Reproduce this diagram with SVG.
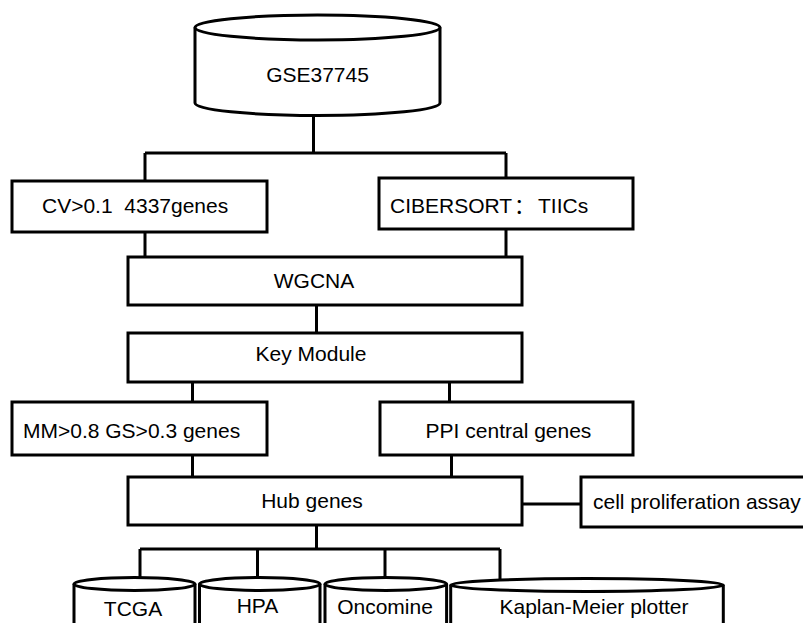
<svg xmlns="http://www.w3.org/2000/svg" width="803" height="623" viewBox="0 0 803 623">
<style>
.b{fill:#fff;stroke:#000;stroke-width:3}
.c{fill:none;stroke:#000;stroke-width:3}
text{font-family:"Liberation Sans","Noto Sans CJK SC",Arial,sans-serif;font-size:21px;fill:#000;white-space:pre}
.m{text-anchor:middle}
</style>
<rect width="803" height="623" fill="#fff"/>
<g id="connectors" class="c">
<path d="M313.5,115 V153 M145,153 H506 M145,153 V181 M506,153 V178"/>
<path d="M145,232 V257 M506,229 V257"/>
<path d="M316.5,305 V333"/>
<path d="M192.5,382 V402 M449.5,382 V402"/>
<path d="M192.5,455 V477 M451.5,455 V477"/>
<path d="M522,504 H581"/>
<path d="M316.5,525 V549 M140,549 H500 M140,549 V578 M257.5,549 V578 M385,549 V578 M500,549 V579"/>
</g>
<g id="gse">
<path class="b" d="M195,27.5 A122.5,12.5 0 0 1 440,27.5 L440,103 A122.5,12.5 0 0 1 195,103 Z"/>
<path class="c" d="M195,27.5 A122.5,12.5 0 0 0 440,27.5"/>
<text class="m" x="317.5" y="82">GSE37745</text>
</g>
<g id="cv">
<rect class="b" x="12" y="181" width="255" height="51"/>
<text x="42" y="213">CV&gt;0.1  4337genes</text>
</g>
<g id="cibersort">
<rect class="b" x="379" y="178" width="254" height="51"/>
<text x="390" y="213">CIBERSORT<tspan x="514">：</tspan><tspan x="538">TIICs</tspan></text>
</g>
<g id="wgcna">
<rect class="b" x="128" y="257" width="394" height="48"/>
<text class="m" x="314" y="288">WGCNA</text>
</g>
<g id="keymodule">
<rect class="b" x="128" y="333" width="394" height="49"/>
<text class="m" x="311" y="361">Key Module</text>
</g>
<g id="mm">
<rect class="b" x="12" y="402" width="255" height="53"/>
<text x="23" y="438">MM&gt;0.8 GS&gt;0.3 genes</text>
</g>
<g id="ppi">
<rect class="b" x="380" y="402" width="253" height="53"/>
<text class="m" x="508.5" y="438">PPI central genes</text>
</g>
<g id="hub">
<rect class="b" x="128" y="477" width="394" height="48"/>
<text class="m" x="312" y="508">Hub genes</text>
</g>
<g id="cellprolif">
<rect class="b" x="581" y="477" width="240" height="50"/>
<text x="593" y="509">cell proliferation assay</text>
</g>
<g id="tcga">
<path class="b" d="M74,584 A60.5,6.5 0 0 1 195,584 V640 H74 Z"/>
<path class="c" d="M74,584 A60.5,6.5 0 0 0 195,584"/>
<text class="m" x="133" y="616">TCGA</text>
</g>
<g id="hpa">
<path class="b" d="M199.5,584 A60.25,6.5 0 0 1 320,584 V640 H199.5 Z"/>
<path class="c" d="M199.5,584 A60.25,6.5 0 0 0 320,584"/>
<text class="m" x="257.5" y="613">HPA</text>
</g>
<g id="oncomine">
<path class="b" d="M325,584 A60.8,6.5 0 0 1 446.6,584 V640 H325 Z"/>
<path class="c" d="M325,584 A60.8,6.5 0 0 0 446.6,584"/>
<text class="m" x="385" y="614">Oncomine</text>
</g>
<g id="km">
<path class="b" d="M450.7,585 A136.3,6.5 0 0 1 723.3,585 V640 H450.7 Z"/>
<path class="c" d="M450.7,585 A136.3,6.5 0 0 0 723.3,585"/>
<text class="m" x="594" y="614">Kaplan-Meier plotter</text>
</g>
</svg>
